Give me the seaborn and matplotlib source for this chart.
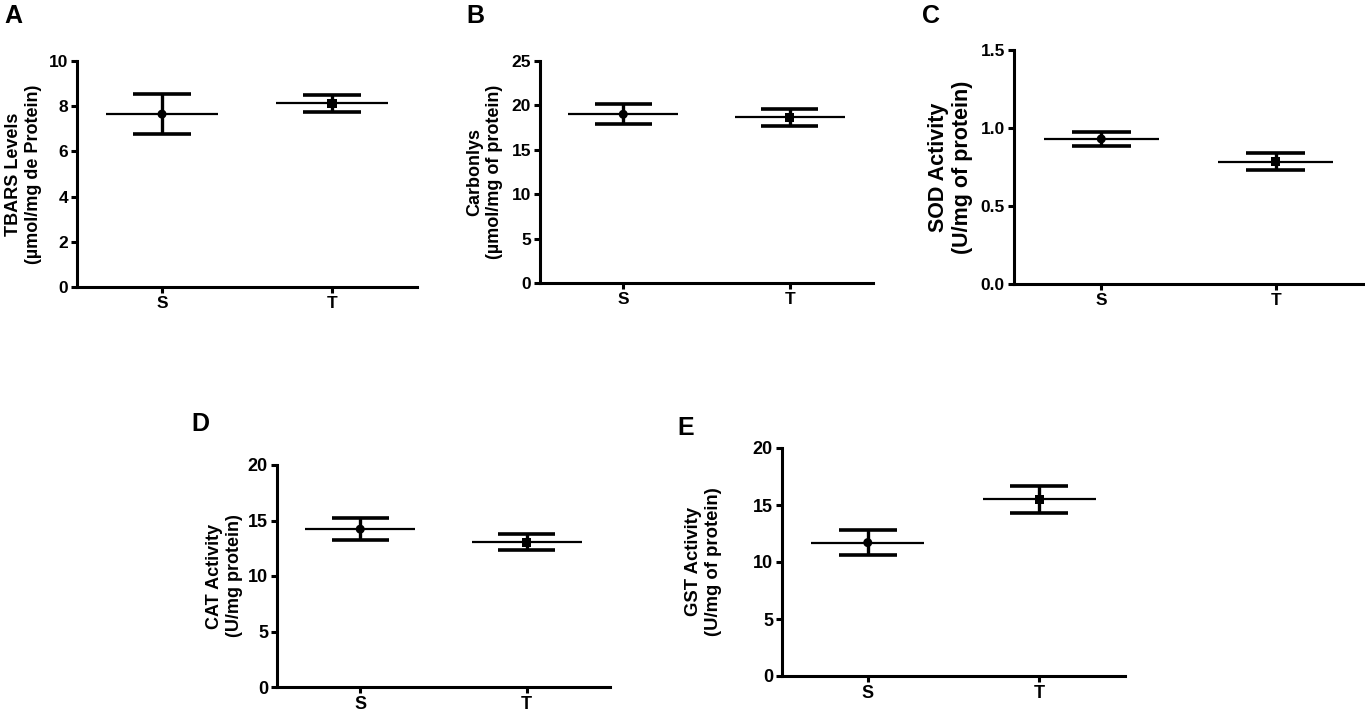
import numpy as np
import pandas as pd
import seaborn as sns
import matplotlib.pyplot as plt

# groups and mean +/- error for each panel
groups = ['S', 'T']

tbars_mean = [7.65, 8.12]
tbars_err = [0.89, 0.39]

carbonyl_mean = [19.0, 18.65]
carbonyl_err = [1.15, 0.97]

sod_mean = [0.93, 0.785]
sod_err = [0.047, 0.053]

cat_mean = [14.22, 13.05]
cat_err = [0.98, 0.72]

gst_mean = [11.7, 15.5]
gst_err = [1.12, 1.16]

sns.set_style("ticks")
plt.rcParams['font.family'] = ['Liberation Sans', 'DejaVu Sans']
plt.rcParams['font.weight'] = 'bold'
plt.rcParams['text.color'] = 'black'
plt.rcParams['axes.labelcolor'] = 'black'
plt.rcParams['xtick.color'] = 'black'
plt.rcParams['ytick.color'] = 'black'

fig = plt.figure(figsize=(13.65, 7.13), dpi=100)
W, H = 1365, 713


def add_axes(l, r, t, b):
    return fig.add_axes([l / W, 1 - b / H, (r - l) / W, (b - t) / H])


panels = [
    # letter, mean, err, ylabel, yticks, rect(px), label x, tick size, label size, letter pos, format
    ('A', tbars_mean, tbars_err, 'TBARS Levels\n(\u00b5mol/mg de Protein)',
     np.arange(0, 11, 2), (77, 417, 61, 287), -0.103, 12.5, 13, (4, 4), '%d'),
    ('B', carbonyl_mean, carbonyl_err, 'Carbonlys\n(\u00b5mol/mg of protein)',
     np.arange(0, 26, 5), (540, 873, 61, 283), -0.111, 12.5, 13, (466, 4), '%d'),
    ('C', sod_mean, sod_err, 'SOD Activity\n(U/mg of protein)',
     np.arange(0, 1.6, 0.5), (1014, 1363, 50, 284), -0.117, 12.5, 15.5, (922, 4), '%.1f'),
    ('D', cat_mean, cat_err, 'CAT Activity\n(U/mg protein)',
     np.arange(0, 21, 5), (277, 610, 465, 687), -0.102, 13, 13, (191, 412), '%d'),
    ('E', gst_mean, gst_err, 'GST Activity\n(U/mg of protein)',
     np.arange(0, 21, 5), (782, 1125, 448, 676), -0.175, 13, 13.3, (677, 416), '%d'),
]

for letter, mean, err, ylab, yticks, rect, labx, tsize, lsize, lpos, fmt in panels:
    ax = add_axes(*rect)
    df = pd.DataFrame({'group': groups, 'pos': np.arange(len(groups)),
                       'mean': mean, 'err': err})
    lo = df['mean'] - df['err']
    hi = df['mean'] + df['err']

    # mean line, error bar and caps
    ax.hlines(df['mean'], df['pos'] - 0.33, df['pos'] + 0.33, color='black', lw=1.6, zorder=2)
    ax.vlines(df['pos'], lo, hi, color='black', lw=2.4, zorder=2)
    ax.hlines(hi, df['pos'] - 0.17, df['pos'] + 0.17, color='black', lw=2.6, zorder=2)
    ax.hlines(lo, df['pos'] - 0.17, df['pos'] + 0.17, color='black', lw=2.6, zorder=2)

    sns.scatterplot(data=df, x='pos', y='mean', style='group',
                    markers={'S': 'o', 'T': 's'}, color='black', s=42,
                    edgecolor='black', linewidth=0, legend=False, ax=ax, zorder=3)

    ax.set_xlim(-0.5, len(groups) - 0.5)
    ax.set_ylim(yticks[0], yticks[-1])
    ax.set_xticks(df['pos'])
    ax.set_xticklabels(groups, fontsize=tsize, fontweight='bold')
    ax.set_yticks(yticks)
    ax.set_yticklabels([fmt % v for v in yticks], fontsize=tsize, fontweight='bold')
    ax.set_xlabel('')
    ax.set_ylabel(ylab, fontsize=lsize, fontweight='bold', linespacing=1.2)
    ax.yaxis.set_label_coords(labx, 0.5)

    sns.despine(ax=ax)
    for side in ['left', 'bottom']:
        ax.spines[side].set_linewidth(2.2)
        ax.spines[side].set_color('black')
    ax.tick_params(axis='both', width=2.2, length=4.5, color='black', labelcolor='black', pad=2)
    ax.grid(False)

    fig.text(lpos[0] / W, 1 - lpos[1] / H, letter, fontsize=18, fontweight='bold',
             ha='left', va='top', color='black')

fig.savefig('out.png', dpi=100)
